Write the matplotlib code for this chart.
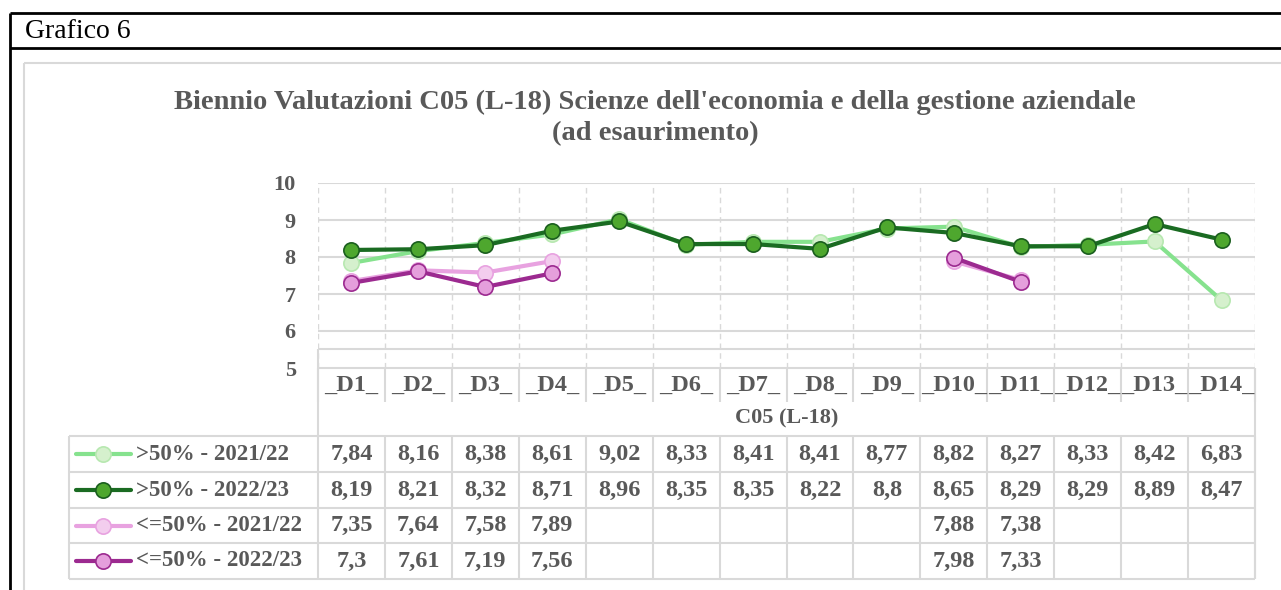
import matplotlib.pyplot as plt
from matplotlib.lines import Line2D
from matplotlib.patches import Rectangle

# dati
categorie = ['_D1_', '_D2_', '_D3_', '_D4_', '_D5_', '_D6_', '_D7_', '_D8_', '_D9_',
             '_D10_', '_D11_', '_D12_', '_D13_', '_D14_']
sopra50_2122 = [7.84, 8.16, 8.38, 8.61, 9.02, 8.33, 8.41, 8.41, 8.77, 8.82, 8.27, 8.33, 8.42, 6.83]
sopra50_2223 = [8.19, 8.21, 8.32, 8.71, 8.96, 8.35, 8.35, 8.22, 8.8, 8.65, 8.29, 8.29, 8.89, 8.47]
sotto50_2122 = [7.35, 7.64, 7.58, 7.89, None, None, None, None, None, 7.88, 7.38, None, None, None]
sotto50_2223 = [7.3, 7.61, 7.19, 7.56, None, None, None, None, None, 7.98, 7.33, None, None, None]
nomi = ['>50% - 2021/22', '>50% - 2022/23', '<=50% - 2021/22', '<=50% - 2022/23']
serie = [sopra50_2122, sopra50_2223, sotto50_2122, sotto50_2223]
# (colore linea, riempimento marker, bordo marker)
stili = [('#86e28e', '#d5f0cd', '#b7e8b0'),
         ('#1a6b22', '#4ea72e', '#1a5e1e'),
         ('#e8a2e0', '#f3cdee', '#e8a2e0'),
         ('#9c2a90', '#e59fdc', '#9c2a90')]

W, H = 1281, 590
GRIGIO = '#595959'
GRIGLIA = '#d9d9d9'
plt.rcParams['font.family'] = ['Liberation Serif', 'DejaVu Serif']

fig = plt.figure(figsize=(W / 100, H / 100), dpi=100)
# asse di sfondo in coordinate pixel
bg = fig.add_axes([0, 0, 1, 1])
bg.set_xlim(0, W)
bg.set_ylim(H, 0)
bg.axis('off')

def linea(x, y, c=GRIGLIA, lw=1.5, ls='-'):
    bg.add_line(Line2D(x, y, color=c, lw=lw, ls=ls, solid_capstyle='butt'))

# cornice esterna
linea([10, W], [13, 13], 'black', 2)
linea([10, W], [47.5, 47.5], 'black', 2)
linea([10, 10], [13, H], 'black', 2)
bg.text(25, 31, 'Grafico 6', fontsize=20, color='black', va='center', ha='left')
bg.add_patch(Rectangle((24, 63), W, H, fill=False, ec=GRIGLIA, lw=1.5))

bg.text(655, 102, "Biennio Valutazioni C05 (L-18) Scienze dell'economia e della gestione aziendale",
        fontsize=20.5, fontweight='bold', color=GRIGIO, ha='center', va='center')
bg.text(655, 134, '(ad esaurimento)', fontsize=20.5, fontweight='bold', color=GRIGIO,
        ha='center', va='center')

x0, x1 = 318, 1255
cw = (x1 - x0) / len(categorie)
y_top, y_bot = 183, 368

# area del grafico
ax = fig.add_axes([x0 / W, (H - y_bot) / H, (x1 - x0) / W, (y_bot - y_top) / H])
ax.patch.set_alpha(0)
ax.set_xlim(-0.5, len(categorie) - 0.5)
ax.set_ylim(5, 10)
ax.set_yticks(range(5, 11))
ax.set_yticklabels([str(v) for v in range(5, 11)], fontsize=16, fontweight='bold', color=GRIGIO)
ax.tick_params(axis='y', length=0, pad=16)
ax.set_xticks([])
for s in ax.spines.values():
    s.set_visible(False)
for v in range(6, 11):
    ax.axhline(v, color=GRIGLIA, lw=1.5, zorder=0)
for i in range(len(categorie) + 1):
    ax.axvline(i - 0.5, color=GRIGLIA, lw=1, ls=(0, (4, 3)), zorder=0)

xs = range(len(categorie))
for vals, (lc, mf, me) in zip(serie, stili):
    yv = [float('nan') if v is None else v for v in vals]
    ax.plot(xs, yv, color=lc, lw=3, marker='o', markersize=11, markerfacecolor=mf,
            markeredgecolor=me, markeredgewidth=1.2, clip_on=False, zorder=3)

# tabella dati
linea([x0, x1], [349, 349])
linea([x0, x1], [368, 368])
for i in range(len(categorie) + 1):
    linea([x0 + i * cw] * 2, [368, 402])
for i, c in enumerate(categorie):
    bg.text(x0 + (i + 0.5) * cw, 385, c, fontsize=17.5, fontweight='bold', color=GRIGIO,
            ha='center', va='center')
linea([x0, x0], [349, 435])
linea([x1, x1], [368, 579])
bg.text((x0 + x1) / 2, 418, 'C05 (L-18)', fontsize=16, fontweight='bold', color=GRIGIO,
        ha='center', va='center')

righe = [436, 472, 508, 543, 579]
lx = 69
for r in righe:
    linea([lx, x1], [r, r])
linea([lx, lx], [righe[0], righe[-1]])
for i in range(len(categorie) + 1):
    linea([x0 + i * cw] * 2, [righe[0], righe[-1]])

for k, (nome, vals, (lc, mf, me)) in enumerate(zip(nomi, serie, stili)):
    yc = (righe[k] + righe[k + 1]) / 2
    bg.add_line(Line2D([76, 131], [yc, yc], color=lc, lw=3, solid_capstyle='round'))
    bg.add_line(Line2D([103], [yc], marker='o', markersize=11, markerfacecolor=mf,
                       markeredgecolor=me, markeredgewidth=1.2))
    bg.text(136, yc, nome, fontsize=16.5, fontweight='bold', color=GRIGIO, ha='left', va='center')
    for i, v in enumerate(vals):
        if v is None:
            continue
        bg.text(x0 + (i + 0.5) * cw, yc, str(v).replace('.', ','), fontsize=17.5,
                fontweight='bold', color=GRIGIO, ha='center', va='center')

fig.savefig('out.png', dpi=100)
